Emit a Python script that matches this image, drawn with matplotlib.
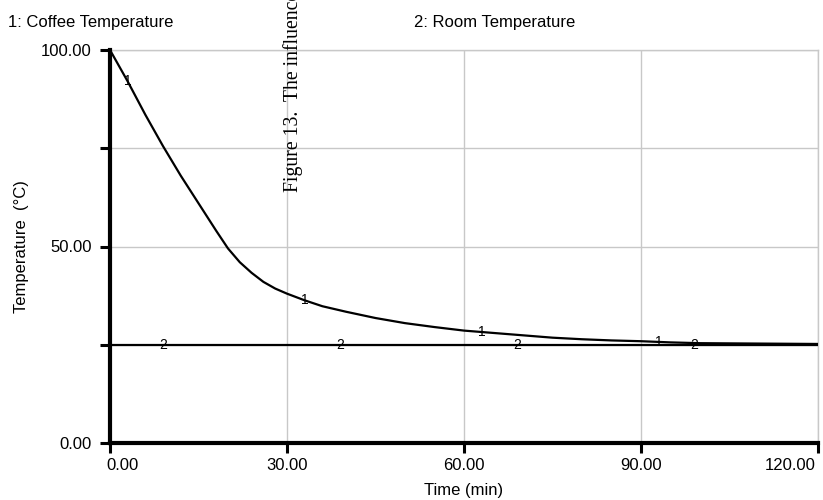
import numpy as np
import matplotlib
matplotlib.use("Agg")
import matplotlib.pyplot as plt
from matplotlib.transforms import ScaledTranslation

# Data
time_min = [0, 3, 6, 9, 12, 15, 18, 20, 22, 24, 26, 28, 30, 33, 36, 40, 45, 50,
            55, 60, 65, 70, 75, 80, 85, 90, 95, 100, 110, 120]
coffee_temp = [100, 92, 83.5, 75.5, 68, 61, 54, 49.5, 46, 43.3, 41, 39.3, 38,
               36.3, 34.8, 33.4, 31.8, 30.5, 29.5, 28.6, 28, 27.4, 26.8, 26.4,
               26.1, 25.9, 25.6, 25.4, 25.3, 25.2]
room_time = [0, 120]
room_temp = [25, 25]
marker1_times = [3, 33, 63, 93]
marker2_times = [9, 39, 69, 99]
x_ticks = [0, 30, 60, 90, 120]
x_ticklabels = ["0.00", "30.00", "60.00", "90.00", "120.00"]
y_ticks = [0, 25, 50, 75, 100]
y_ticklabels = ["0.00", "", "50.00", "", "100.00"]

plt.rcParams['font.family'] = ['Liberation Sans', 'DejaVu Sans']

fig = plt.figure(figsize=(8.23, 5.0), dpi=100)
ax = fig.add_axes([110 / 823, 57 / 500, 708 / 823, 393 / 500])

grid_c = "#c8c8c8"
ax.set_xlim(0, 120)
ax.set_ylim(0, 100)
ax.set_xticks(x_ticks)
ax.set_xticklabels(x_ticklabels, fontsize=12)
ax.set_yticks(y_ticks)
ax.set_yticklabels(y_ticklabels, fontsize=12)
ax.grid(True, color=grid_c, linewidth=1.0)
ax.set_axisbelow(True)

for s in ["top", "right"]:
    ax.spines[s].set_color(grid_c)
    ax.spines[s].set_linewidth(1.0)
for s in ["left", "bottom"]:
    ax.spines[s].set_color("black")
    ax.spines[s].set_linewidth(3.0)
    ax.spines[s].set_zorder(5)

ax.tick_params(axis="x", direction="out", length=7, width=2.2, color="black",
               labelsize=12, pad=4)
ax.tick_params(axis="y", direction="out", length=7, width=2.2, color="black",
               labelsize=12, pad=6)

# edge tick labels kept inside the figure as in the reference
xl = ax.get_xticklabels()
xl[0].set_horizontalalignment("left")
xl[0].set_transform(xl[0].get_transform() + ScaledTranslation(-4 / 100, 0, fig.dpi_scale_trans))
xl[-1].set_horizontalalignment("right")
xl[-1].set_transform(xl[-1].get_transform() + ScaledTranslation(-2 / 100, 0, fig.dpi_scale_trans))

ax.plot(time_min, coffee_temp, color="black", linewidth=1.6, zorder=3)
ax.plot(room_time, room_temp, color="black", linewidth=1.6, zorder=3)

for t in marker1_times:
    ax.text(t, np.interp(t, time_min, coffee_temp), "1", ha="center", va="center",
            fontsize=10, zorder=4)
for t in marker2_times:
    ax.text(t, np.interp(t, room_time, room_temp), "2", ha="center", va="center",
            fontsize=10, zorder=4)

ax.set_xlabel("Time (min)", fontsize=12, labelpad=7)
ax.set_ylabel("Temperature  (\u00b0C)", fontsize=12, labelpad=9)

fig.text(8 / 823, 1 - 27 / 500, "1: Coffee Temperature", fontsize=12,
         ha="left", va="baseline")
fig.text(414 / 823, 1 - 27 / 500, "2: Room Temperature", fontsize=12,
         ha="left", va="baseline")

fig.text(293 / 823, 1 - 192 / 500, "Figure 13.  The influence",
         family=["Liberation Serif"], fontsize=14.2, rotation=90,
         ha="center", va="bottom")

fig.savefig("out.png", dpi=100)
